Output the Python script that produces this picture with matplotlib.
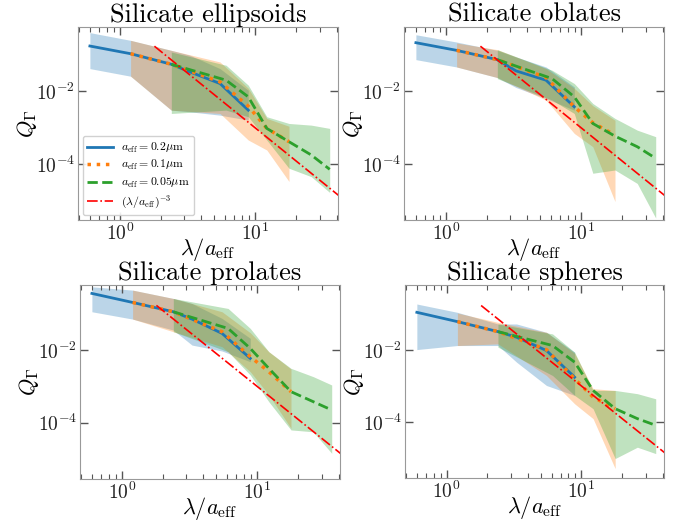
import matplotlib
matplotlib.use("Agg")
import matplotlib.pyplot as plt
from matplotlib.ticker import FixedLocator, NullLocator, LogLocator

plt.rcParams['font.family'] = 'serif'
plt.rcParams['font.serif'] = ['cmr10', 'DejaVu Serif']
plt.rcParams['mathtext.fontset'] = 'cm'
plt.rcParams['axes.formatter.use_mathtext'] = True

titles = ['Silicate ellipsoids', 'Silicate oblates', 'Silicate prolates', 'Silicate spheres']
sizes = [r'$a_{\rm eff} = 0.2\mu{\rm m}$', r'$a_{\rm eff} = 0.1\mu{\rm m}$', r'$a_{\rm eff} = 0.05\mu{\rm m}$']

# lambda / a_eff grid for each grain size
x_a02 = [0.6, 1.2, 2.4, 3.3, 5.5, 8.9]
x_a01 = [1.2, 2.4, 5.5, 8.9, 12.2, 17.8]
x_a005 = [2.4, 6.1, 8.9, 12.2, 17.8, 26.0, 35.6]

# reference power law (lambda/a)^-3, end points
red_x = [1.8, 45.0]
red_q = [0.17, 1.1e-5]

# ellipsoids
ell_q02 = [0.172, 0.106, 0.0545, 0.0336, 0.0162, 0.00303]
ell_hi02 = [0.40, 0.246, 0.131, 0.096, 0.0415, 0.0106]
ell_lo02 = [0.0415, 0.0257, 0.00303, 0.00273, 0.00221, 0.00162]
ell_q01 = [0.106, 0.0545, 0.0180, 0.0039, 0.00096, 0.000415]
ell_hi01 = [0.246, 0.131, 0.063, 0.012, 0.0018, 0.00110]
ell_lo01 = [0.0257, 0.00303, 0.00246, 0.000461, 0.000246, 3.4e-5]
ell_q005 = [0.0545, 0.0200, 0.0070, 0.00096, 0.000415, 0.00018, 7.3e-5]
ell_hi005 = [0.118, 0.0512, 0.0146, 0.0020, 0.00131, 0.00118, 0.00096]
ell_lo005 = [0.00246, 0.00303, 0.0020, 0.000461, 7.8e-5, 4.6e-5, 1.7e-5]

# oblates
obl_q02 = [0.212, 0.131, 0.073, 0.0359, 0.0200, 0.00374]
obl_hi02 = [0.35, 0.221, 0.131, 0.0863, 0.046, 0.0131]
obl_lo02 = [0.073, 0.046, 0.0236, 0.0126, 0.0063, 0.00303]
obl_q01 = [0.131, 0.073, 0.0236, 0.00374, 0.00137, 0.00063]
obl_hi01 = [0.208, 0.137, 0.0415, 0.012, 0.0040, 0.0016]
obl_lo01 = [0.046, 0.0236, 0.0057, 0.0007, 0.000303, 9.6e-6]
obl_q005 = [0.073, 0.0221, 0.0070, 0.00131, 0.00059, 0.000303, 0.000146]
obl_hi005 = [0.137, 0.0374, 0.0162, 0.00461, 0.0018, 0.00086, 0.00057]
obl_lo005 = [0.0221, 0.0057, 0.00246, 5.7e-5, 7.0e-5, 3.0e-5, 3.4e-6]

# prolates
pro_q02 = [0.363, 0.205, 0.1135, 0.0713, 0.0288, 0.0059]
pro_hi02 = [0.553, 0.448, 0.264, 0.192, 0.0745, 0.021]
pro_lo02 = [0.1135, 0.0713, 0.0355, 0.0137, 0.0094, 0.00477]
pro_q01 = [0.205, 0.1135, 0.032, 0.00656, 0.00253, 0.000713]
pro_hi01 = [0.448, 0.264, 0.1135, 0.0300, 0.0090, 0.00300]
pro_lo01 = [0.0713, 0.032, 0.0124, 0.00253, 0.00058, 7.0e-5]
pro_q005 = [0.1135, 0.0394, 0.0111, 0.00313, 0.000713, 0.000378, 0.000223]
pro_hi005 = [0.264, 0.14, 0.0394, 0.009, 0.00313, 0.00185, 0.00109]
pro_lo005 = [0.032, 0.009, 0.00205, 0.000378, 6.3e-5, 5.6e-5, 1.43e-5]

# spheres
sph_q02 = [0.11, 0.0608, 0.0321, 0.0224, 0.0096, 0.00175]
sph_hi02 = [0.187, 0.11, 0.0523, 0.0523, 0.0308, 0.0086]
sph_lo02 = [0.0102, 0.0132, 0.0132, 0.00456, 0.00103, 0.000546]
sph_q01 = [0.0608, 0.0321, 0.0102, 0.00158, 0.00049, 0.000234]
sph_hi01 = [0.105, 0.058, 0.0308, 0.0080, 0.00084, 0.00075]
sph_lo01 = [0.0132, 0.0147, 0.00195, 0.00032, 0.000124, 5.1e-6]
sph_q005 = [0.0321, 0.0132, 0.00456, 0.00075, 0.000234, 0.000124, 8.1e-5]
sph_hi005 = [0.0523, 0.0277, 0.0086, 0.00075, 0.00075, 0.00061, 0.00044]
sph_lo005 = [0.0119, 0.00195, 0.000546, 0.000234, 9.7e-6, 2.0e-5, 1.33e-5]

panel_data = [
    [(ell_q02, ell_lo02, ell_hi02), (ell_q01, ell_lo01, ell_hi01), (ell_q005, ell_lo005, ell_hi005)],
    [(obl_q02, obl_lo02, obl_hi02), (obl_q01, obl_lo01, obl_hi01), (obl_q005, obl_lo005, obl_hi005)],
    [(pro_q02, pro_lo02, pro_hi02), (pro_q01, pro_lo01, pro_hi01), (pro_q005, pro_lo005, pro_hi005)],
    [(sph_q02, sph_lo02, sph_hi02), (sph_q01, sph_lo01, sph_hi01), (sph_q005, sph_lo005, sph_hi005)],
]
xgrids = [x_a02, x_a01, x_a005]
colors = ['#1f77b4', '#ff7f0e', '#2ca02c']
styles = ['-', ':', '--']
widths = [2.0, 2.5, 2.0]

# axes boxes in pixels: left, top, right, bottom
boxes = [(78, 27, 338, 220), (404, 27, 664, 220), (80, 285, 340, 479), (405, 285, 664, 478)]
ylims = [(3.0e-6, 0.57), (3.0e-6, 0.57), (2.8e-6, 0.62), (2.8e-6, 0.63)]

W, H = 694, 523
fig = plt.figure(figsize=(W / 100, H / 100), dpi=100)

for i in range(4):
    l, t, r, b = boxes[i]
    ax = fig.add_axes([l / W, 1 - b / H, (r - l) / W, (b - t) / H])
    for j in range(3):
        q, lo, hi = panel_data[i][j]
        ax.fill_between(xgrids[j], lo, hi, color=colors[j], alpha=0.3, lw=0)
    for j in range(3):
        q, lo, hi = panel_data[i][j]
        ax.plot(xgrids[j], q, styles[j], color=colors[j], lw=widths[j], label=sizes[j])
    ax.plot(red_x, red_q, '-.', color='red', lw=1.2, label=r'$(\lambda/a_{\rm eff})^{-3}$')

    ax.set_xscale('log')
    ax.set_yscale('log')
    ax.set_xlim(0.49, 41)
    ax.set_ylim(*ylims[i])
    ax.yaxis.set_major_locator(FixedLocator([1e-4, 1e-2]))
    ax.yaxis.set_minor_locator(NullLocator())
    ax.xaxis.set_minor_locator(LogLocator(base=10, subs=range(2, 10), numticks=20))
    for sp in ax.spines.values():
        sp.set_color('#999999')
    ax.tick_params(which='both', direction='in', top=True, right=True, color='#555555',
                   labelsize=14, labelcolor='#222222', pad=2)
    ax.tick_params(which='major', length=6, width=1)
    ax.tick_params(which='minor', length=3.5, width=0.8)
    ax.set_title(titles[i], fontsize=19, pad=2)
    ax.set_xlabel(r'$\lambda/a_{\rm eff}$', fontsize=16, labelpad=-6)
    ax.set_ylabel(r'$Q_\Gamma$', fontsize=16, labelpad=-2)
    if i == 0:
        ax.legend(loc='lower left', fontsize=8.5, handlelength=2.2, handletextpad=0.65,
                  labelspacing=0.3, borderaxespad=0.4, fancybox=True,
                  edgecolor='#cccccc', framealpha=0.9)

fig.savefig('out.png', dpi=100)
